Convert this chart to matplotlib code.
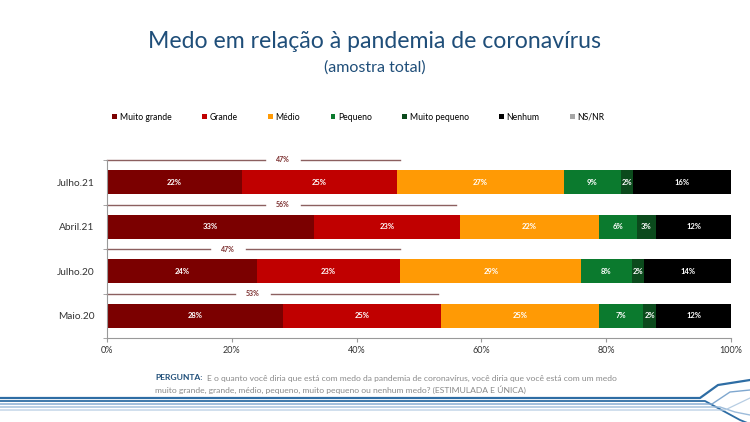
import numpy as np
import matplotlib.pyplot as plt
from matplotlib.lines import Line2D

plt.rcParams['font.family'] = ['Lato', 'DejaVu Sans']

# Dados
periodos = ['Julho.21', 'Abril.21', 'Julho.20', 'Maio.20']
categorias = ['Muito grande', 'Grande', 'Médio', 'Pequeno', 'Muito pequeno', 'Nenhum', 'NS/NR']
muito_grande = [21.6, 33.2, 24.0, 28.2]
grande = [24.9, 23.4, 23.0, 25.3]
medio = [26.7, 22.2, 29.0, 25.3]
pequeno = [9.2, 6.1, 8.1, 7.1]
muito_pequeno = [1.9, 3.1, 2.0, 2.1]
nenhum = [15.7, 12.0, 13.9, 12.0]
ns_nr = [0, 0, 0, 0]
total_medo = [47, 56, 47, 53]

cores = ['#7B0000', '#C00000', '#FF9A05', '#0B7A2E', '#0B4A1C', '#000000', '#A6A6A6']
pos_rotulo = [28.2, 28.2, 19.4, 23.4]  # posição do rótulo da soma

fig = plt.figure(figsize=(7.5, 4.22), dpi=100)
ax = fig.add_axes([107 / 750, 1 - 338 / 422, 624 / 750, 178 / 422])

series = [muito_grande, grande, medio, pequeno, muito_pequeno, nenhum, ns_nr]
y = np.arange(len(periodos))
esq = np.zeros(len(periodos))
for nome, vals, cor in zip(categorias, series, cores):
    vals = np.array(vals)
    ax.barh(y, vals, left=esq, height=0.54, color=cor, label=nome)
    for yi, l, v in zip(y, esq, vals):
        if v > 0:
            ax.text(l + v / 2, yi, f'{v:.0f}%', ha='center', va='center',
                    color='white', fontsize=5.5, fontweight='bold')
    esq += vals

# linhas com o total "muito grande + grande"
for yi, t, px in zip(y, total_medo, pos_rotulo):
    yl = yi - 0.5
    ax.plot([0, px - 2.9], [yl, yl], color='#8C6060', lw=1, clip_on=False)
    ax.plot([px + 2.9, t], [yl, yl], color='#8C6060', lw=1, clip_on=False)
    ax.text(px, yl, f'{t}%', ha='center', va='center', fontsize=5,
            color='#7B2E2E', fontweight='bold')

ax.set_xlim(0, 100)
ax.set_ylim(len(periodos) - 0.5, -0.5)
ax.set_yticks(y)
ax.set_yticklabels(periodos, fontsize=7.3, color='#333333')
ax.set_yticks(np.arange(-0.5, len(periodos)), minor=True)
ax.tick_params(axis='y', which='major', length=0, pad=9)
ax.tick_params(axis='y', which='minor', length=3, color='#999999')
ax.set_xticks(np.arange(0, 101, 20))
ax.set_xticklabels([f'{v}%' for v in range(0, 101, 20)], fontsize=6.5, color='#333333')
ax.tick_params(axis='x', length=3, color='#999999', pad=3)
for s in ['top', 'right']:
    ax.spines[s].set_visible(False)
for s in ['left', 'bottom']:
    ax.spines[s].set_color('#999999')
    ax.spines[s].set_linewidth(0.8)

leg = fig.legend(loc='center', bbox_to_anchor=(0.478, 1 - 117 / 422), ncol=7,
                 frameon=False, fontsize=6.2, handlelength=0.55, handleheight=0.55,
                 handletextpad=0.3, columnspacing=3.55)

fig.text(0.5, 1 - 42 / 422, 'Medo em relação à pandemia de coronavírus',
         ha='center', va='center', fontsize=16.6, color='#1F4E79')
fig.text(0.5, 1 - 68 / 422, '(amostra total)', ha='center', va='center',
         fontsize=11.5, color='#1F4E79')

fig.text(155 / 750, 1 - 378 / 422, 'PERGUNTA:', fontsize=6.1, color='#1F4E79',
         fontweight='bold', va='center')
fig.text(207 / 750, 1 - 378 / 422,
         'E o quanto você diria que está com medo da pandemia de coronavírus, '
         'você diria que você está com um medo',
         fontsize=6.1, color='#8A8A8A', va='center')
fig.text(155 / 750, 1 - 390 / 422,
         'muito grande, grande, médio, pequeno, muito pequeno ou nenhum medo? '
         '(ESTIMULADA E ÚNICA)',
         fontsize=6.1, color='#8A8A8A', va='center')

# faixas decorativas no rodapé
deco = [
    ([0, 700, 718, 750], [398, 398, 385, 380], '#2E6DA4', 1.6),
    ([0, 705, 740, 750], [401, 401, 420, 424], '#2E6DA4', 1.3),
    ([0, 712, 730, 750], [404, 404, 392, 390], '#7FA7CF', 1.0),
    ([0, 720, 735, 750], [407, 407, 412, 415], '#9DBCDB', 1.0),
    ([0, 725, 750], [410, 410, 398], '#B7CDE3', 0.9),
]
for xs, ys, c, lw in deco:
    fig.add_artist(Line2D(np.array(xs) / 750, 1 - np.array(ys) / 422,
                          color=c, lw=lw))

fig.savefig('out.png', dpi=100)
